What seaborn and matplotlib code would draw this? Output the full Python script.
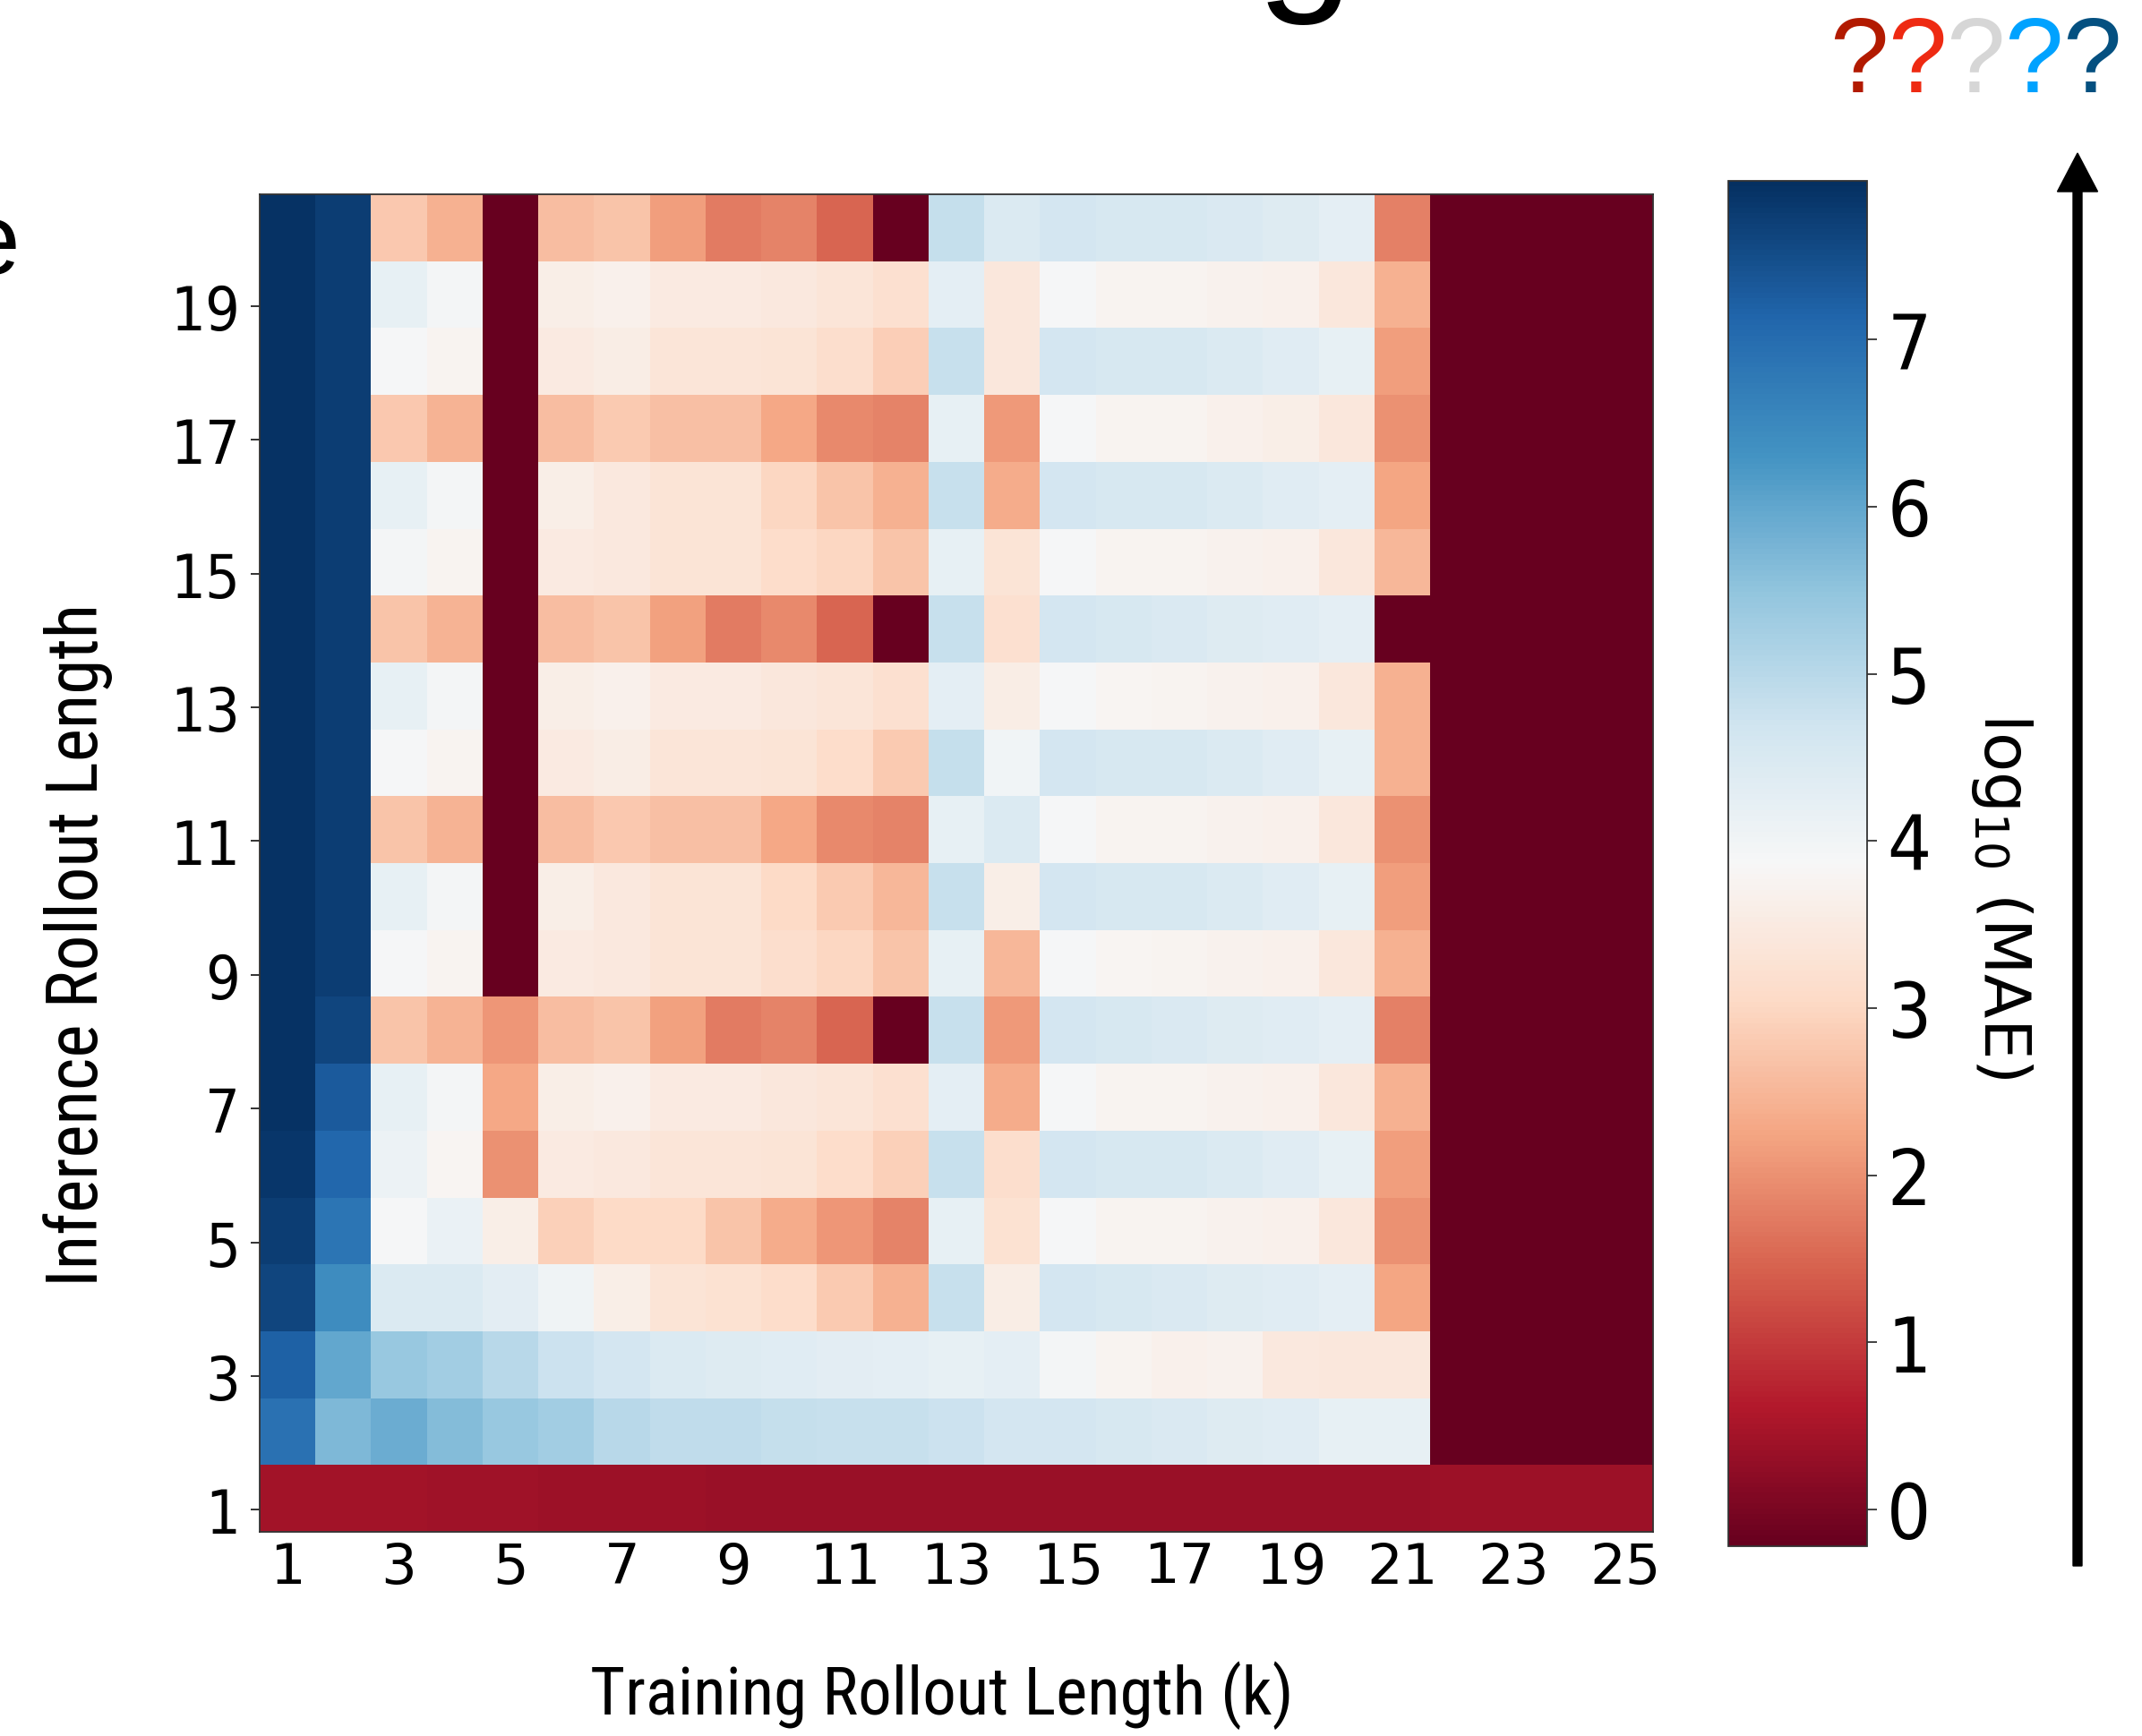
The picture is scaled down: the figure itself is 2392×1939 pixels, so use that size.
import matplotlib
matplotlib.use("Agg")
import matplotlib.pyplot as plt
import numpy as np
import pandas as pd
import seaborn as sns
from matplotlib.patches import FancyArrow

sns.set_theme(style="white")
plt.rcParams['font.family'] = ['DejaVu Sans']
plt.rcParams['mathtext.fontset'] = 'dejavusans'

# ---------------- data: log10(MAE) per inference length (rows) x training length (cols)
D = -0.22  # saturated minimum (dark red cells)

training_lengths = list(range(1, 26))
inference_lengths = list(range(1, 21))

mae_inf20 = [7.90, 7.75, 2.75, 2.40, D, 2.60, 2.70, 2.15, 1.75, 1.85, 1.50, D, 4.85, 4.45, 4.60, 4.55, 4.55, 4.50, 4.40, 4.25, 1.80, D, D, D, D]
mae_inf19 = [7.90, 7.75, 4.20, 3.95, D, 3.60, 3.65, 3.50, 3.50, 3.45, 3.35, 3.20, 4.25, 3.40, 3.90, 3.75, 3.75, 3.70, 3.65, 3.40, 2.40, D, D, D, D]
mae_inf18 = [7.90, 7.75, 3.90, 3.75, D, 3.50, 3.55, 3.35, 3.35, 3.30, 3.15, 2.85, 4.80, 3.40, 4.60, 4.55, 4.55, 4.45, 4.35, 4.20, 2.15, D, D, D, D]
mae_inf17 = [7.90, 7.75, 2.75, 2.45, D, 2.60, 2.80, 2.65, 2.65, 2.30, 1.90, 1.85, 4.20, 2.10, 3.90, 3.75, 3.75, 3.65, 3.60, 3.40, 2.00, D, D, D, D]
mae_inf16 = [7.90, 7.75, 4.20, 3.95, D, 3.60, 3.45, 3.30, 3.30, 3.00, 2.70, 2.40, 4.80, 2.35, 4.60, 4.55, 4.55, 4.45, 4.35, 4.25, 2.25, D, D, D, D]
mae_inf15 = [7.90, 7.75, 3.95, 3.75, D, 3.50, 3.45, 3.30, 3.30, 3.10, 3.00, 2.70, 4.20, 3.30, 3.90, 3.75, 3.75, 3.70, 3.65, 3.40, 2.50, D, D, D, D]
mae_inf14 = [7.90, 7.75, 2.70, 2.45, D, 2.60, 2.70, 2.20, 1.75, 1.90, 1.50, D, 4.80, 3.20, 4.60, 4.55, 4.50, 4.40, 4.35, 4.25, D, D, D, D, D]
mae_inf13 = [7.90, 7.75, 4.20, 3.95, D, 3.60, 3.65, 3.50, 3.50, 3.40, 3.35, 3.20, 4.25, 3.55, 3.90, 3.80, 3.75, 3.70, 3.65, 3.40, 2.40, D, D, D, D]
mae_inf12 = [7.90, 7.75, 3.90, 3.75, D, 3.50, 3.55, 3.35, 3.35, 3.30, 3.10, 2.80, 4.85, 4.00, 4.60, 4.55, 4.55, 4.45, 4.35, 4.20, 2.40, D, D, D, D]
mae_inf11 = [7.90, 7.75, 2.70, 2.45, D, 2.60, 2.75, 2.65, 2.65, 2.30, 1.90, 1.85, 4.20, 4.45, 3.90, 3.75, 3.75, 3.70, 3.65, 3.40, 2.00, D, D, D, D]
mae_inf10 = [7.90, 7.75, 4.20, 3.95, D, 3.60, 3.45, 3.30, 3.30, 3.05, 2.80, 2.50, 4.80, 3.60, 4.60, 4.55, 4.55, 4.45, 4.35, 4.20, 2.15, D, D, D, D]
mae_inf9 = [7.90, 7.75, 3.90, 3.75, D, 3.50, 3.45, 3.30, 3.30, 3.15, 3.00, 2.70, 4.20, 2.50, 3.90, 3.80, 3.75, 3.70, 3.65, 3.40, 2.40, D, D, D, D]
mae_inf8 = [7.90, 7.60, 2.70, 2.45, 2.05, 2.60, 2.70, 2.20, 1.75, 1.85, 1.50, D, 4.80, 2.10, 4.60, 4.55, 4.50, 4.40, 4.35, 4.25, 1.80, D, D, D, D]
mae_inf7 = [7.90, 7.30, 4.20, 3.95, 2.30, 3.60, 3.65, 3.50, 3.50, 3.40, 3.35, 3.20, 4.25, 2.35, 3.90, 3.75, 3.75, 3.70, 3.65, 3.40, 2.40, D, D, D, D]
mae_inf6 = [7.85, 7.10, 4.10, 3.80, 2.00, 3.50, 3.45, 3.35, 3.35, 3.30, 3.10, 2.90, 4.80, 3.15, 4.60, 4.55, 4.55, 4.45, 4.35, 4.20, 2.15, D, D, D, D]
mae_inf5 = [7.75, 6.85, 3.90, 4.15, 3.60, 2.90, 3.05, 3.05, 2.70, 2.35, 2.05, 1.85, 4.20, 3.25, 3.90, 3.75, 3.75, 3.70, 3.65, 3.40, 2.00, D, D, D, D]
mae_inf4 = [7.60, 6.45, 4.45, 4.45, 4.30, 4.05, 3.60, 3.30, 3.25, 3.10, 2.80, 2.40, 4.80, 3.55, 4.60, 4.55, 4.50, 4.40, 4.35, 4.25, 2.25, D, D, D, D]
mae_inf3 = [7.20, 6.00, 5.40, 5.30, 5.00, 4.75, 4.60, 4.45, 4.40, 4.35, 4.30, 4.25, 4.20, 4.25, 3.95, 3.75, 3.65, 3.70, 3.45, 3.40, 3.40, D, D, D, D]
mae_inf2 = [6.90, 5.70, 5.90, 5.65, 5.40, 5.30, 5.00, 4.90, 4.90, 4.85, 4.80, 4.80, 4.75, 4.60, 4.60, 4.55, 4.50, 4.40, 4.35, 4.20, 4.20, D, D, D, D]
mae_inf1 = [0.45, 0.44, 0.42, 0.41, 0.40, 0.38, 0.37, 0.36, 0.35, 0.35, 0.34, 0.34, 0.34, 0.34, 0.34, 0.34, 0.34, 0.34, 0.34, 0.35, 0.35, 0.36, 0.37, 0.38, 0.38]

rows_top_to_bottom = [mae_inf20, mae_inf19, mae_inf18, mae_inf17, mae_inf16, mae_inf15,
                      mae_inf14, mae_inf13, mae_inf12, mae_inf11, mae_inf10, mae_inf9,
                      mae_inf8, mae_inf7, mae_inf6, mae_inf5, mae_inf4, mae_inf3,
                      mae_inf2, mae_inf1]
df = pd.DataFrame(rows_top_to_bottom, index=inference_lengths[::-1], columns=training_lengths)

VMIN, VMAX = -0.22, 7.95
xtick_values = list(range(1, 26, 2))
ytick_values = list(range(1, 20, 2))
cbar_ticks = list(range(0, 8))
question_colors = ['#b21a00', '#ee2a12', '#d6d6d6', '#00a2ff', '#045080']

# ---------------- figure
W, H = 2392, 1940
fig = plt.figure(figsize=(W / 100, H / 100), dpi=100)
fig.patch.set_facecolor('white')
ax = fig.add_axes([290 / W, 1 - 1712 / H, 1556 / W, 1494 / H])
cax = fig.add_axes([1930 / W, 1 - 1728 / H, 155 / W, 1525 / H])

sns.heatmap(df, ax=ax, cbar_ax=cax, cmap='RdBu', vmin=VMIN, vmax=VMAX,
            linewidths=0, xticklabels=False, yticklabels=False)
ax.collections[0].set_edgecolor('face')

for s in ax.spines.values():
    s.set_visible(True)
    s.set_linewidth(1.3)
    s.set_edgecolor('#333333')

n_rows = len(inference_lengths)
ax.set_xticks([v - 1 + 0.5 for v in xtick_values])
ax.set_xticklabels([str(v) for v in xtick_values], rotation=0)
ax.set_yticks([(n_rows - v) + 0.5 + 0.17 for v in ytick_values])
ax.set_yticklabels([str(v) for v in ytick_values], rotation=0)
ax.tick_params(axis='x', bottom=True, direction='in', length=7, width=1.3,
               color='#222222', pad=7, labelsize=45, labelcolor='black')
ax.tick_params(axis='y', left=True, direction='out', length=7, width=1.3,
               color='#222222', pad=9, labelsize=49, labelcolor='black')
for t in ax.get_yticklabels():
    t.set_fontstretch('condensed')

label_family = ['Roboto Condensed', 'DejaVu Sans']
ax.set_xlabel('Training Rollout Length (k)', fontsize=54,
              family=label_family, fontstretch='condensed',
              va='baseline', color='black')
ax.xaxis.set_label_coords(0.4897, -0.1359)
ax.set_ylabel('Inference Rollout Length', fontsize=57, family=label_family,
              fontstretch='condensed', va='center', color='black')
ax.yaxis.set_label_coords(-0.1305, 0.4391)

cbar = ax.collections[0].colorbar
cbar.set_ticks(cbar_ticks)
cbar.outline.set_visible(True)
cbar.outline.set_linewidth(1.3)
cbar.outline.set_edgecolor('#333333')
cax.tick_params(axis='y', right=True, length=8, width=1.3, color='#333333',
                labelsize=62, pad=8, labelcolor='black')
for t in cax.get_yticklabels():
    t.set_fontstretch('condensed')
cbar.set_label('log$_{10}$ (MAE)', rotation=270, fontsize=52, va='center', color='black')
cax.yaxis.set_label_coords(1.968, 0.477)

# ---------------- overlay (slide decorations) in pixel coordinates
ov = fig.add_axes([0, 0, 1, 1])
ov.set_xlim(0, W)
ov.set_ylim(H, 0)
ov.axis('off')
ov.add_patch(FancyArrow(2320, 1750, 0, 172 - 1750, width=10, head_width=45,
                        head_length=43, length_includes_head=True,
                        color='black'))
for i, c in enumerate(question_colors):
    ov.text(2076 + 65 * i, 103, '?', color=c, fontsize=85,
            family=['Liberation Sans', 'DejaVu Sans'], ha='center', va='baseline')
ov.text(1457, -13, 'g', fontsize=141, family=['Liberation Sans', 'DejaVu Sans'],
        ha='center', va='baseline', color='black')
ov.text(22, 306, 'e', fontsize=81, family=['Liberation Sans', 'DejaVu Sans'],
        ha='right', va='baseline', color='black')

fig.savefig('out.png', dpi=100)
